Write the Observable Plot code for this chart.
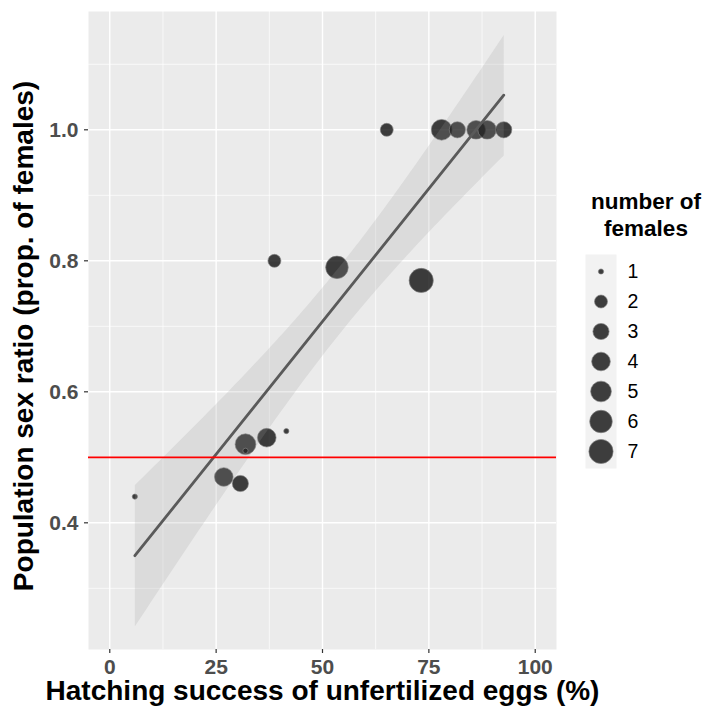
<!DOCTYPE html>
<html>
<head>
<meta charset="utf-8">
<script src="https://cdn.jsdelivr.net/npm/d3@7"></script>
<script src="https://cdn.jsdelivr.net/npm/@observablehq/plot@0.6"></script>
<style>
  html, body { margin: 0; padding: 0; background: white; }
  #wrap { position: relative; width: 709px; height: 709px; font-family: "Liberation Sans", Arial, sans-serif; }
  #main { position: absolute; left: 0; top: 0; }
  #legend { position: absolute; left: 585px; top: 254px; }
  #legendTitle { position: absolute; left: 581px; top: 188px; width: 130px; text-align: center;
    font-weight: bold; font-size: 22.5px; line-height: 27px; color: black; }
</style>
</head>
<body>
<div id="wrap">
  <div id="main"></div>
  <div id="legendTitle">number of<br>females</div>
  <div id="legend"></div>
</div>
<script>
// ---- data ----
const hatching = [5.9, 26.8, 30.7, 31.9, 31.9, 36.9, 41.5, 38.7, 53.4, 65.1, 73.2, 78.0, 81.7, 86.1, 88.7, 92.6];
const sexRatio = [0.44, 0.47, 0.46, 0.52, 0.51, 0.53, 0.54, 0.80, 0.79, 1.00, 0.77, 1.00, 1.00, 1.00, 1.00, 1.00];
const females  = [1, 4, 3, 5, 1, 4, 1, 2, 6, 2, 7, 5, 3, 4, 4, 3];
const legendValues = [1, 2, 3, 4, 5, 6, 7];
const xTicks = [0, 25, 50, 75, 100];
const xMinor = [12.5, 37.5, 62.5, 87.5];
const yTicks = [0.4, 0.6, 0.8, 1.0];
const yMinor = [0.3, 0.5, 0.7, 0.9, 1.1];
const refLine = [0.5];
const xTitle = "Hatching success of unfertilized eggs (%)";
const yTitle = "Population sex ratio (prop. of females)";

const data = hatching.map((x, i) => ({x, y: sexRatio[i], n: females[i]}));
// ggplot-like area scale: r grows with sqrt(n - min)
const rScale = {type: "sqrt", domain: [0, 6], range: [2.6, 12.1]};
const rOf = n => Math.max(n - 1, 1e-9);
const dotStyle = {fill: "black", fillOpacity: 0.75, stroke: "#808080", strokeOpacity: 0.8, strokeWidth: 0.8};

const main = Plot.plot({
  width: 709, height: 709,
  marginLeft: 88, marginRight: 153, marginTop: 11, marginBottom: 60,
  style: {fontFamily: "Liberation Sans, Arial, sans-serif", background: "transparent"},
  x: {domain: [-5, 105]},
  y: {domain: [0.2066, 1.1806]},
  r: rScale,
  marks: [
    Plot.frame({fill: "#EBEBEB", stroke: null}),
    Plot.gridX({ticks: xMinor, stroke: "white", strokeOpacity: 1, strokeWidth: 0.7}),
    Plot.gridY({ticks: yMinor, stroke: "white", strokeOpacity: 1, strokeWidth: 0.7}),
    Plot.gridX({ticks: xTicks, stroke: "white", strokeOpacity: 1, strokeWidth: 1.4}),
    Plot.gridY({ticks: yTicks, stroke: "white", strokeOpacity: 1, strokeWidth: 1.4}),
    Plot.dot(data, {x: "x", y: "y", r: d => rOf(d.n), ...dotStyle}),
    Plot.linearRegressionY(data, {x: "x", y: "y", ci: 0.95, stroke: "#5A5A5A", strokeWidth: 2.8, fill: "#999999", fillOpacity: 0.2}),
    Plot.ruleY(refLine, {stroke: "#FF0000", strokeWidth: 1.7}),
    Plot.axisX({ticks: xTicks, tickSize: 4, tickPadding: 5.5, fontSize: 21, fontWeight: "bold", fill: "#4D4D4D", stroke: "#333333", strokeWidth: 1.2, label: null}),
    Plot.axisY({ticks: yTicks, tickSize: 4, tickPadding: 6, fontSize: 21, fontWeight: "bold", fill: "#4D4D4D", stroke: "#333333", strokeWidth: 1.2, label: null, tickFormat: d => d.toFixed(1)}),
    Plot.text([xTitle], {frameAnchor: "bottom", dy: 42, textAnchor: "middle", lineAnchor: "middle", text: d => d, fontSize: 28, fontWeight: "bold", fill: "black"}),
    Plot.text([yTitle], {frameAnchor: "left", dx: -64, dy: 5.5, rotate: -90, textAnchor: "middle", lineAnchor: "middle", text: d => d, fontSize: 28, fontWeight: "bold", fill: "black"})
  ]
});
document.getElementById("main").appendChild(main);

const legend = Plot.plot({
  width: 124, height: 214,
  marginLeft: 0, marginRight: 93, marginTop: 0, marginBottom: 0,
  style: {fontFamily: "Liberation Sans, Arial, sans-serif", background: "transparent", overflow: "visible"},
  x: {domain: [0, 1], axis: null},
  y: {type: "point", domain: legendValues, padding: 0.5, axis: null},
  r: rScale,
  marks: [
    Plot.frame({fill: "#F2F2F2", stroke: null}),
    Plot.dot(legendValues, {x: () => 0.5, y: d => d, r: d => rOf(d), ...dotStyle}),
    Plot.text(legendValues, {x: () => 1, y: d => d, text: d => String(d), dx: 11, textAnchor: "start", fontSize: 19.5, fill: "black"})
  ]
});
document.getElementById("legend").appendChild(legend);
</script>
</body>
</html>
